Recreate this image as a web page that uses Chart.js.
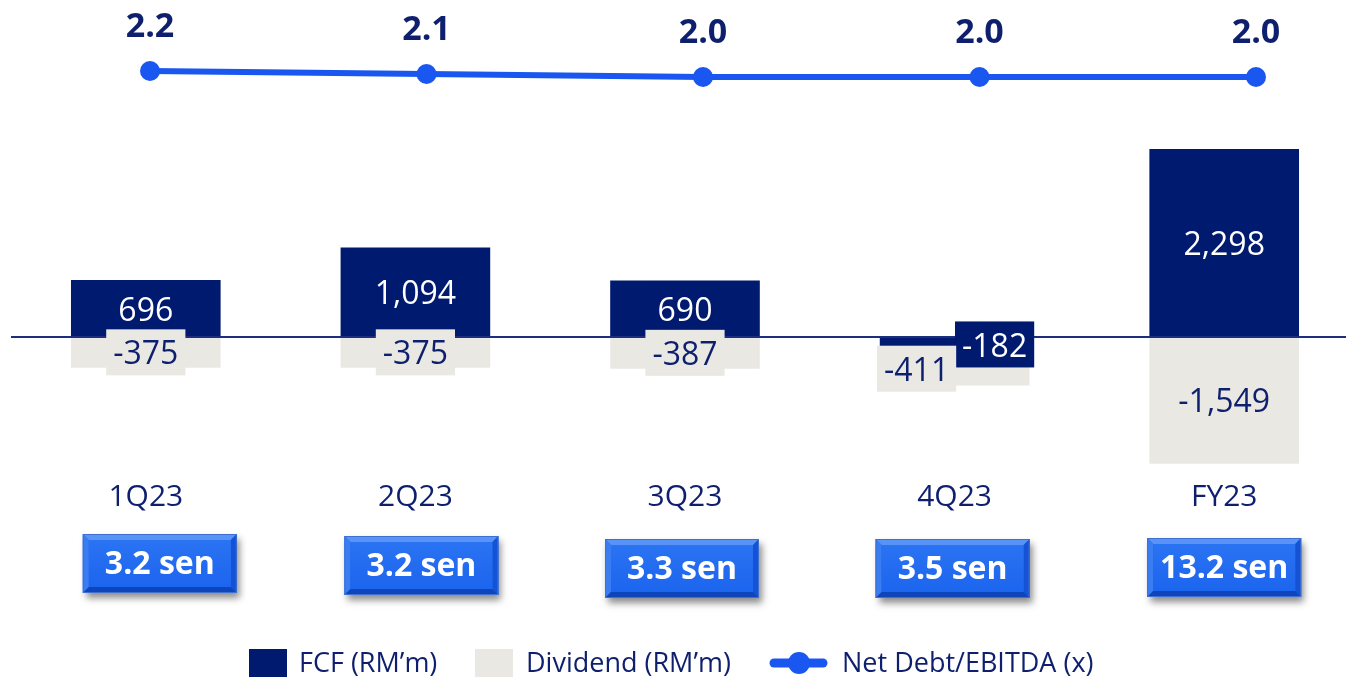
<!DOCTYPE html>
<html>
<head>
<meta charset="utf-8">
<title>FCF, Dividend and Net Debt/EBITDA</title>
<script src="https://cdn.jsdelivr.net/npm/chart.js@4.4.1/dist/chart.umd.min.js"></script>
<style>
    html, body { margin: 0; padding: 0; background: #fff; overflow: hidden; }
    #wrap { position: relative; width: 1360px; height: 678px; }
    #wrap canvas { position: absolute; left: 0; top: 0; }
</style>
</head>
<body>
<div id="wrap">
    <canvas id="barChart" width="1360" height="678"></canvas>
    <canvas id="lineChart" width="1360" height="678"></canvas>
</div>
<script>
// Quarterly figures
const categories = ['1Q23', '2Q23', '3Q23', '4Q23', 'FY23'];
const fcfValues = [696, 1094, 690, -182, 2298];
const dividendValues = [-375, -375, -387, -411, -1549];
const netDebtEbitda = [2.2, 2.1, 2.0, 2.0, 2.0];
const dpsSen = [3.2, 3.2, 3.3, 3.5, 13.2];

const NAVY = '#001a70';
const GREY = '#e9e8e3';
const BLUE = '#1a56f0';
const TEXT = '#0e1f6e';
const FONT = "'Open Sans', sans-serif";

// Small sideways nudges for labels that would collide (4Q23)
const labelShift = {
    fcf: [0, 0, 0, 40, 0],
    dividend: [0, 0, 0, -38, 0]
};

// DPS buttons: nudges from the category centre and top edges
const buttonShift = [14, 6, -3, -2, 0];
const buttonTop = [534, 536, 539, 539, 538];

const fmt = v => v.toLocaleString('en-US');

function drawPoly(ctx, pts, color) {
    ctx.beginPath();
    ctx.moveTo(pts[0][0], pts[0][1]);
    for (let i = 1; i < pts.length; i++) ctx.lineTo(pts[i][0], pts[i][1]);
    ctx.closePath();
    ctx.fillStyle = color;
    ctx.fill();
}

function drawButton(ctx, cx, top, text) {
    const w = 154, h = 59, b = 6;
    const l = cx - w / 2, r = l + w, bt = top + h;

    ctx.save();
    ctx.shadowColor = 'rgba(0,0,0,0.45)';
    ctx.shadowBlur = 7;
    ctx.shadowOffsetX = 3;
    ctx.shadowOffsetY = 5;
    ctx.fillStyle = '#1a64ec';
    ctx.fillRect(l, top, w, h);
    ctx.restore();

    // bevel edges
    drawPoly(ctx, [[l, top], [r, top], [r - b, top + b], [l + b, top + b]], '#5a93f6');
    drawPoly(ctx, [[l, top], [l + b, top + b], [l + b, bt - b], [l, bt]], '#3a7df3');
    drawPoly(ctx, [[r, top], [r - b, top + b], [r - b, bt - b], [r, bt]], '#1553d6');
    drawPoly(ctx, [[l, bt], [l + b, bt - b], [r - b, bt - b], [r, bt]], '#0f45ba');

    const g = ctx.createLinearGradient(0, top + b, 0, bt - b);
    g.addColorStop(0, '#2a73f3');
    g.addColorStop(1, '#1c65ee');
    ctx.fillStyle = g;
    ctx.fillRect(l + b, top + b, w - 2 * b, h - 2 * b);

    ctx.strokeStyle = '#3f6fd0';
    ctx.lineWidth = 1;
    ctx.strokeRect(l + 0.5, top + 0.5, w - 1, h - 1);

    ctx.fillStyle = '#ffffff';
    ctx.font = `700 32px ${FONT}`;
    ctx.textAlign = 'center';
    ctx.textBaseline = 'middle';
    ctx.fillText(text, cx, top + h / 2 + 1);
}

// Baseline, bar value boxes, category labels, DPS buttons and legend
const barDecor = {
    id: 'barDecor',
    afterDatasetsDraw: (chart) => {
        const ctx = chart.ctx;
        const area = chart.chartArea;
        const yZero = chart.scales.y.getPixelForValue(0);

        ctx.save();
        ctx.strokeStyle = '#1d2d80';
        ctx.lineWidth = 2;
        ctx.beginPath();
        ctx.moveTo(area.left, yZero);
        ctx.lineTo(1346, yZero);
        ctx.stroke();

        ctx.font = `400 32px ${FONT}`;
        ctx.textAlign = 'center';
        ctx.textBaseline = 'middle';
        [['fcf', 0, NAVY, '#ffffff'], ['dividend', 1, GREY, TEXT]].forEach(([key, idx, bg, fg]) => {
            chart.getDatasetMeta(idx).data.forEach((bar, i) => {
                const text = fmt(chart.data.datasets[idx].data[i]);
                const x = bar.x + labelShift[key][i];
                const y = (bar.y + bar.base) / 2;
                const tw = ctx.measureText(text).width + 14;
                ctx.fillStyle = bg;
                ctx.fillRect(x - tw / 2, y - 23, tw, 46);
                ctx.fillStyle = fg;
                ctx.fillText(text, x, y + 3);
            });
        });
        ctx.restore();
    },
    afterDraw: (chart) => {
        const ctx = chart.ctx;
        const xScale = chart.scales.x;
        ctx.save();

        ctx.font = `400 30px ${FONT}`;
        ctx.fillStyle = TEXT;
        ctx.textAlign = 'center';
        ctx.textBaseline = 'middle';
        categories.forEach((c, i) => {
            ctx.fillText(c, xScale.getPixelForValue(i), 497);
        });

        dpsSen.forEach((v, i) => {
            drawButton(ctx, xScale.getPixelForValue(i) + buttonShift[i], buttonTop[i], `${v.toFixed(1)} sen`);
        });

        // legend
        const ly = 663;
        ctx.font = `400 27px ${FONT}`;
        ctx.textAlign = 'left';
        ctx.fillStyle = NAVY;
        ctx.fillRect(249, ly - 14, 38, 28);
        ctx.fillStyle = TEXT;
        ctx.fillText('FCF (RM\u2019m)', 299, ly + 1);
        ctx.fillStyle = GREY;
        ctx.fillRect(475, ly - 14, 38, 28);
        ctx.fillStyle = TEXT;
        ctx.fillText('Dividend (RM\u2019m)', 526, ly + 1);
        ctx.strokeStyle = BLUE;
        ctx.lineWidth = 9;
        ctx.lineCap = 'round';
        ctx.beginPath();
        ctx.moveTo(774, ly);
        ctx.lineTo(823, ly);
        ctx.stroke();
        ctx.fillStyle = BLUE;
        ctx.beginPath();
        ctx.arc(799, ly, 11, 0, Math.PI * 2);
        ctx.fill();
        ctx.fillStyle = TEXT;
        ctx.fillText('Net Debt/EBITDA (x)', 842, ly + 1);
        ctx.restore();
    }
};

// Bold ratio labels above the line points
const lineLabels = {
    id: 'lineLabels',
    afterDatasetsDraw: (chart) => {
        const ctx = chart.ctx;
        ctx.save();
        ctx.font = `700 34px ${FONT}`;
        ctx.fillStyle = TEXT;
        ctx.textAlign = 'center';
        ctx.textBaseline = 'middle';
        chart.getDatasetMeta(0).data.forEach((pt, i) => {
            ctx.fillText(chart.data.datasets[0].data[i].toFixed(1), pt.x, pt.y - 44);
        });
        ctx.restore();
    }
};

const barChart = new Chart(document.getElementById('barChart'), {
    type: 'bar',
    data: {
        labels: categories,
        datasets: [
            {
                label: 'FCF (RM\u2019m)',
                data: fcfValues,
                backgroundColor: NAVY,
                barPercentage: 1,
                categoryPercentage: 0.555
            },
            {
                label: 'Dividend (RM\u2019m)',
                data: dividendValues,
                backgroundColor: GREY,
                barPercentage: 1,
                categoryPercentage: 0.555
            }
        ]
    },
    options: {
        responsive: false,
        animation: false,
        devicePixelRatio: 1,
        layout: { padding: { left: 11, right: 1, top: 0, bottom: 208 }, autoPadding: false },
        plugins: {
            legend: { display: false },
            tooltip: { enabled: false }
        },
        scales: {
            x: { type: 'category', stacked: true, display: false },
            y: { stacked: true, display: false, min: -1625.9, max: 4119.8 }
        }
    },
    plugins: [barDecor]
});

// Net Debt/EBITDA sits on its own overlay so its points keep their own spacing
const lineChart = new Chart(document.getElementById('lineChart'), {
    type: 'line',
    data: {
        labels: categories,
        datasets: [{
            label: 'Net Debt/EBITDA (x)',
            data: netDebtEbitda,
            borderColor: BLUE,
            backgroundColor: BLUE,
            borderWidth: 6,
            pointRadius: 10,
            pointBorderWidth: 0,
            pointBackgroundColor: BLUE,
            tension: 0,
            clip: false
        }]
    },
    options: {
        responsive: false,
        animation: false,
        devicePixelRatio: 1,
        layout: { padding: { left: 150, right: 104, top: 0, bottom: 208 }, autoPadding: false },
        plugins: {
            legend: { display: false },
            tooltip: { enabled: false }
        },
        scales: {
            x: { type: 'category', offset: false, display: false },
            y: { display: false, min: -11.1, max: 4.5667 }
        }
    },
    plugins: [lineLabels]
});
</script>
</body>
</html>
